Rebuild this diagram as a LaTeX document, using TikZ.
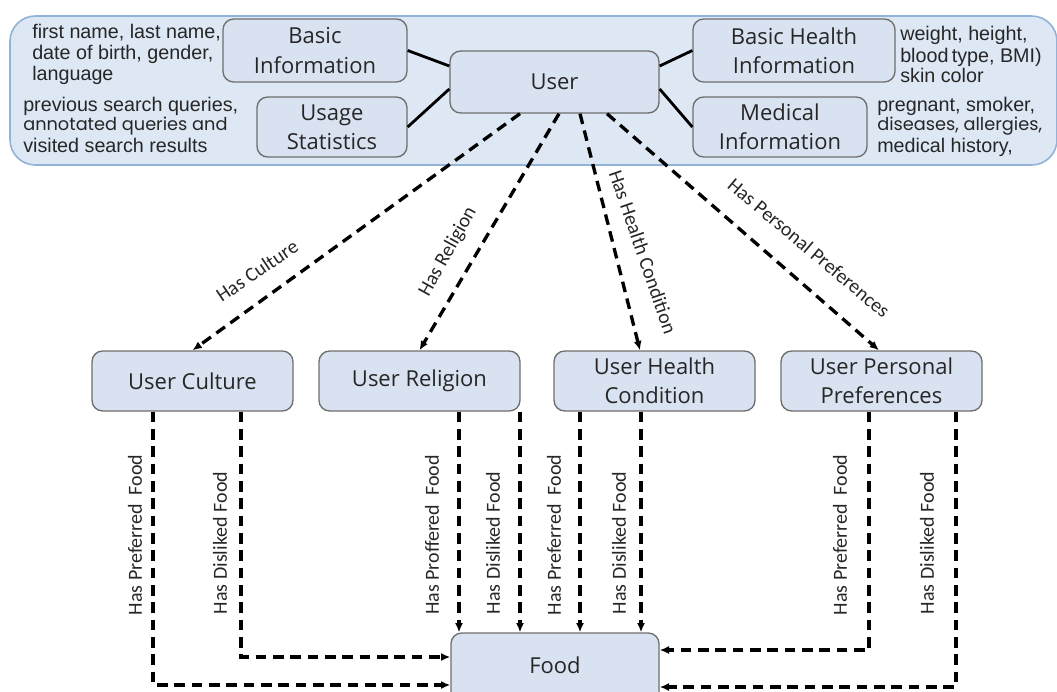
\documentclass[tikz,border=0pt]{standalone}
\usepackage{fontspec}
\setmainfont{Open Sans}
\newfontfamily\edgefont{Carlito}
\newfontfamily\notefont{Liberation Sans}
\newfontfamily\roundfont{Poppins}
\usetikzlibrary{arrows.meta,calc}
\definecolor{panelfill}{HTML}{DDE8F4}
\definecolor{panelline}{HTML}{92B2D8}
\definecolor{boxfill}{HTML}{D9E2F0}
\definecolor{boxline}{HTML}{6E6E6E}
\definecolor{ink}{HTML}{262626}

\begin{document}
\begin{tikzpicture}[x=0.75pt,y=-0.75pt,
  panel/.style={draw=panelline, line width=1.2pt, fill=panelfill,
    rounded corners=19pt, inner sep=0pt},
  entitytext/.style={text=ink, align=center, inner sep=0pt,
    font=\fontsize{16.5}{22}\selectfont},
  entity/.style={draw=boxline, line width=1pt, fill=boxfill,
    rounded corners=8pt, entitytext},
  link/.style={line width=2.1pt, draw=black},
  relation/.style={line width=2.5pt, draw=black, dash pattern=on 8pt off 5pt,
    -{Latex[length=7pt,width=6pt]}},
  note/.style={anchor=base west, inner sep=0pt, text=ink,
    font=\notefont\fontsize{14.8}{16}\selectfont},
  roundnote/.style={note, font=\roundfont\fontsize{13.3}{14}\selectfont},
  edgelabel/.style={text=ink, inner sep=0pt,
    font=\edgefont\fontsize{15}{16}\selectfont},
]
\useasboundingbox (0,0) rectangle (1057,692);
\clip (0,0) rectangle (1057,692);

% user profile panel
\node[panel, minimum width=785.25pt, minimum height=111.75pt] (profile) at (533.5,90.5) {};

% attribute notes
\node[note] (nA1) at (32,39) {first name, last name,};
\node[note] (nA2) at (32,60) {date of birth, gender,};
\node[note] (nA3) at (32,80) {language};
\node[note] (nB1) at (23,112) {previous search queries,};
\node[roundnote] (nB2) at (23,131) {annotated queries and};
\node[note] (nB3) at (23,152) {visited search results};
\node[note] (nC1) at (900,41) {weight, height,};
\node[note] (nC2) at (900,63) {blood\,type, BMI)};
\node[note] (nC3) at (900,83) {skin color};
\node[note] (nD1) at (877,112) {pregnant, smoker,};
\node[roundnote] (nD2) at (877,131) {diseases, allergies,};
\node[note] (nD3) at (877,152) {medical history,};

% profile entities
\node[entity, minimum width=138pt, minimum height=47.25pt] (basic) at (315,50.5) {Basic\\Information};
\node[entity, minimum width=112.5pt, minimum height=45pt] (usage) at (332,127) {Usage\\Statistics};
\node[entity, minimum width=156.75pt, minimum height=46.5pt] (user) at (554.5,82) {User};
\node[entity, minimum width=151.5pt, minimum height=47.25pt] (bhealth) at (794,50.5) {Basic Health\\Information};
\node[entity, minimum width=130.5pt, minimum height=45pt] (medical) at (780,127) {Medical\\Information};

% user facets
\node[entity, minimum width=150.75pt, minimum height=45pt] (culture) at (192.5,381) {User Culture};
\node[entity, minimum width=150.75pt, minimum height=45pt] (religion) at (419.5,381) {User Religion};
\node[entity, minimum width=150.75pt, minimum height=45pt] (health) at (654.5,381) {User Health\\Condition};
\node[entity, minimum width=150.75pt, minimum height=45pt] (personal) at (881.5,381) {User Personal\\Preferences};

% food box runs past the lower edge
\node[entity, minimum width=156pt, minimum height=60pt,
  label={[entitytext, yshift=6pt]center:Food}] (food) at (555,673) {};

% solid links inside the profile
\draw[link] (basic.east) -- ($(user.west)+(0,-16)$);
\draw[link] (usage.east) -- ($(user.west)+(0,7)$);
\draw[link] ($(user.east)+(0,-16)$) -- (bhealth.west);
\draw[link] ($(user.east)+(0,7)$) -- (medical.west);

% user to facets
\draw[relation] ($(user.south)+(-34.5,0)$) -- (culture.north);
\draw[relation] ($(user.south)+(4.5,0)$) -- (religion.north);
\draw[relation] ($(user.south)+(25.5,0)$) -- ($(health.north)+(-14.5,0)$);
\draw[relation] ($(user.south)+(52.5,0)$) -- ($(personal.north)+(-2.5,0)$);

\node[edgelabel, rotate=34] (lCul) at (257,271) {Has Culture};
\node[edgelabel, rotate=61] (lRel) at (448,252) {Has Religion};
\node[edgelabel, rotate=-71] (lHea) at (643,252) {Has Health Condition};
\node[edgelabel, rotate=-40] (lPer) at (809,248) {Has Personal Preferences};

% facets to food
\coordinate (cPref) at ($(culture.south)+(-39.5,0)$);
\coordinate (cDisl) at ($(culture.south)+(48.5,0)$);
\coordinate (rPref) at ($(religion.south)+(39.5,0)$);
\coordinate (rDisl) at ($(religion.south)+(100.5,0)$);
\coordinate (hPref) at ($(health.south)+(-74.5,0)$);
\coordinate (hDisl) at ($(health.south)+(-13.5,0)$);
\coordinate (pPref) at ($(personal.south)+(-12.5,0)$);
\coordinate (pDisl) at ($(personal.south)+(74.5,0)$);

\draw[relation] (cPref) |- ($(food.west)+(0,12)$);
\draw[relation] (cDisl) |- ($(food.west)+(0,-16)$);
\draw[relation] (rPref) -- (rPref |- food.north);
\draw[relation] (rDisl) -- (rDisl |- food.north);
\draw[relation] (hPref) -- (hPref |- food.north);
\draw[relation] (hDisl) -- (hDisl |- food.north);
\draw[relation] (pPref) |- ($(food.east)+(0,-23)$);
\draw[relation] (pDisl) |- ($(food.east)+(0,14)$);

\node[edgelabel, rotate=90] (lCp) at (135,535) {Has Preferred\ \ Food};
\node[edgelabel, rotate=90] (lCd) at (220,543) {Has Disliked Food};
\node[edgelabel, rotate=90] (lRp) at (432,535) {Has Proffered\ \ Food};
\node[edgelabel, rotate=90] (lRd) at (493,543) {Has Disliked Food};
\node[edgelabel, rotate=90] (lHp) at (554,535) {Has Preferred\ \ Food};
\node[edgelabel, rotate=90] (lHd) at (619,543) {Has Disliked Food};
\node[edgelabel, rotate=90] (lPp) at (840,535) {Has Preferred\ \ Food};
\node[edgelabel, rotate=90] (lPd) at (927,543) {Has Disliked Food};
\end{tikzpicture}
\end{document}
